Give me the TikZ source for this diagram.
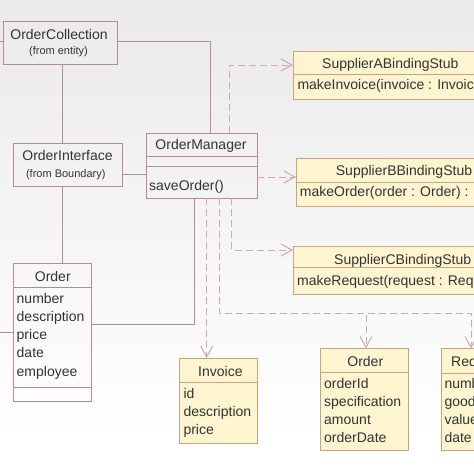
\documentclass[tikz,border=0pt]{standalone}
\usepackage{fontspec}
\setmainfont{Liberation Sans}
\usetikzlibrary{arrows.meta,calc}

\definecolor{bgtop}{HTML}{EAEAEA}
\definecolor{clsline}{HTML}{B48C8C}
\definecolor{depline}{HTML}{D4A6AE}
\definecolor{stubfill}{HTML}{FDF5D0}
\definecolor{stubline}{HTML}{C4A57C}
\definecolor{ink}{HTML}{333333}

\begin{document}
\begin{tikzpicture}[x=1pt, y=-1pt,
    cls/.style={draw=clsline, line width=1pt, inner sep=0pt, outer sep=0pt, anchor=north west},
    stub/.style={cls, draw=stubline, fill=stubfill},
    assoc/.style={draw=clsline, line width=1pt},
    dep/.style={draw=depline, line width=1pt, dash pattern=on 7pt off 4pt, -{Straight Barb[length=11pt,width=12pt]}},
    txt/.style={inner sep=0pt, text=ink, font=\fontsize{14}{18}\selectfont},
    sub/.style={txt, font=\fontsize{11}{13}\selectfont}]

    % canvas
    \useasboundingbox (0,0) rectangle (474,474);
    \clip (0,0) rectangle (474,474);
    \fill[white] (0,0) rectangle (474,474);
    \shade[top color=bgtop, bottom color=white] (0,0) rectangle (474,440);

    % class boxes
    \node[cls, minimum width=114, minimum height=43] (coll) at (3,21) {};
    \node[cls, minimum width=109, minimum height=43] (iface) at (13,143) {};
    \node[cls, minimum width=111, minimum height=65] (mgr) at (146,133) {};
    \node[cls, minimum width=78, minimum height=138] (ord) at (13,263) {};
    \node[stub, minimum width=197, minimum height=48] (stubA) at (293,51) {};
    \node[stub, minimum width=218, minimum height=48] (stubB) at (296,158) {};
    \node[stub, minimum width=222, minimum height=48] (stubC) at (293,246) {};
    \node[stub, minimum width=78, minimum height=85] (inv) at (179.5,358) {};
    \node[stub, minimum width=88, minimum height=102] (ordB) at (320,348.5) {};
    \node[stub, minimum width=72, minimum height=102] (req) at (441,348.5) {};

    % compartments
    \draw[assoc] ($(mgr.north west)+(0,23)$) -- ($(mgr.north east)+(0,23)$);
    \draw[assoc] ($(mgr.north west)+(0,33)$) -- ($(mgr.north east)+(0,33)$);
    \draw[assoc] ($(ord.north west)+(0,24)$) -- ($(ord.north east)+(0,24)$);
    \draw[assoc] ($(ord.north west)+(0,124)$) -- ($(ord.north east)+(0,124)$);
    \draw[draw=stubline, line width=1pt] ($(stubA.north west)+(0,23)$) -- ($(stubA.north east)+(0,23)$);
    \draw[draw=stubline, line width=1pt] ($(stubB.north west)+(0,24)$) -- ($(stubB.north east)+(0,24)$);
    \draw[draw=stubline, line width=1pt] ($(stubC.north west)+(0,21.5)$) -- ($(stubC.north east)+(0,21.5)$);
    \draw[draw=stubline, line width=1pt] ($(inv.north west)+(0,24)$) -- ($(inv.north east)+(0,24)$);
    \draw[draw=stubline, line width=1pt] ($(ordB.north west)+(0,24)$) -- ($(ordB.north east)+(0,24)$);
    \draw[draw=stubline, line width=1pt] ($(req.north west)+(0,24.5)$) -- ($(req.north east)+(0,24.5)$);

    % associations
    \coordinate (offC) at (-2,41);
    \coordinate (offO) at (-2,332);
    \coordinate (spine) at (62,0);
    \draw[assoc] (offC -| coll.west) -- (offC);
    \draw[assoc] (offC -| coll.east) -| ($(mgr.north west)+(64,0)$);
    \draw[assoc] (coll.south -| spine) -- (iface.north -| spine);
    \draw[assoc] (iface.south -| spine) -- (ord.north -| spine);
    \draw[assoc] ($(iface.south east)+(0,-12)$) coordinate (ifR) -- (ifR -| mgr.west);
    \draw[assoc] (offO -| ord.west) -- (offO);
    \draw[assoc] ($(ord.north east)+(0,61.7)$) -| ($(mgr.south west)+(48,0)$);

    % dependencies
    \draw[dep] ($(mgr.north west)+(83,0)$) |- ($(stubA.north west)+(0,14)$);
    \draw[dep] ($(mgr.north east)+(0,44)$) -- ($(stubB.north west)+(0,19)$);
    \draw[dep] ($(mgr.south west)+(85.7,0)$) |- ($(stubC.north west)+(0,4)$);
    \draw[dep] ($(mgr.south west)+(60.7,0)$) -- ($(inv.north west)+(27.2,0)$);
    \draw[dep] ($(mgr.south west)+(73.3,0)$) |- ($(ordB.north west)+(46,-35.5)$) -- ($(ordB.north west)+(46,0)$);
    \draw[dep] ($(mgr.south west)+(73.3,0)$) |- ($(req.north west)+(30,-35.5)$) -- ($(req.north west)+(30,0)$);

    % texts
    \node[txt, anchor=base] (collT) at (59,39.3) {OrderCollection};
    \node[sub, anchor=base] (collS) at (58.5,54.5) {(from entity)};
    \node[txt, anchor=base] (ifaceT) at (67.5,160.7) {OrderInterface};
    \node[sub, anchor=base] (ifaceS) at (65.8,177) {(from Boundary)};
    \node[txt, anchor=base] (mgrT) at (201,149.5) {OrderManager};
    \node[txt, anchor=base west] (mgrO) at (149,190) {saveOrder()};
    \node[txt, anchor=base] (ordT) at (52.8,281.3) {Order};
    \foreach \t [count=\i] in {number,description,price,date,employee}
        \node[txt, anchor=base west] (ordA\i) at (16.5,285.1+18.2*\i) {\t};
    \node[txt, anchor=base west] (stubAT) at (322,68.5) {SupplierABindingStub};
    \node[txt, anchor=base west] (stubAO) at (297.3,89.5) {makeInvoice(invoice : Invoice)};
    \node[txt, anchor=base west] (stubBT) at (335.7,175.3) {SupplierBBindingStub};
    \node[txt, anchor=base west] (stubBO) at (299.7,196.7) {makeOrder(order : Order) : Boolean};
    \node[txt, anchor=base west] (stubCT) at (334,264.7) {SupplierCBindingStub};
    \node[txt, anchor=base west] (stubCO) at (297,285) {makeRequest(request : Request)};
    \node[txt, anchor=base west] (invT) at (198,376) {Invoice};
    \foreach \t [count=\i] in {id,description,price}
        \node[txt, anchor=base west] (invA\i) at (183.3,380+18*\i) {\t};
    \node[txt, anchor=base] (ordBT) at (365.3,366) {Order};
    \foreach \t [count=\i] in {orderId,specification,amount,orderDate}
        \node[txt, anchor=base west] (ordBA\i) at (324,370.5+18*\i) {\t};
    \node[txt, anchor=base west] (reqT) at (451,366) {Request};
    \foreach \t [count=\i] in {number,goods,value,date}
        \node[txt, anchor=base west] (reqA\i) at (444.3,370.5+18*\i) {\t};

\end{tikzpicture}
\end{document}
